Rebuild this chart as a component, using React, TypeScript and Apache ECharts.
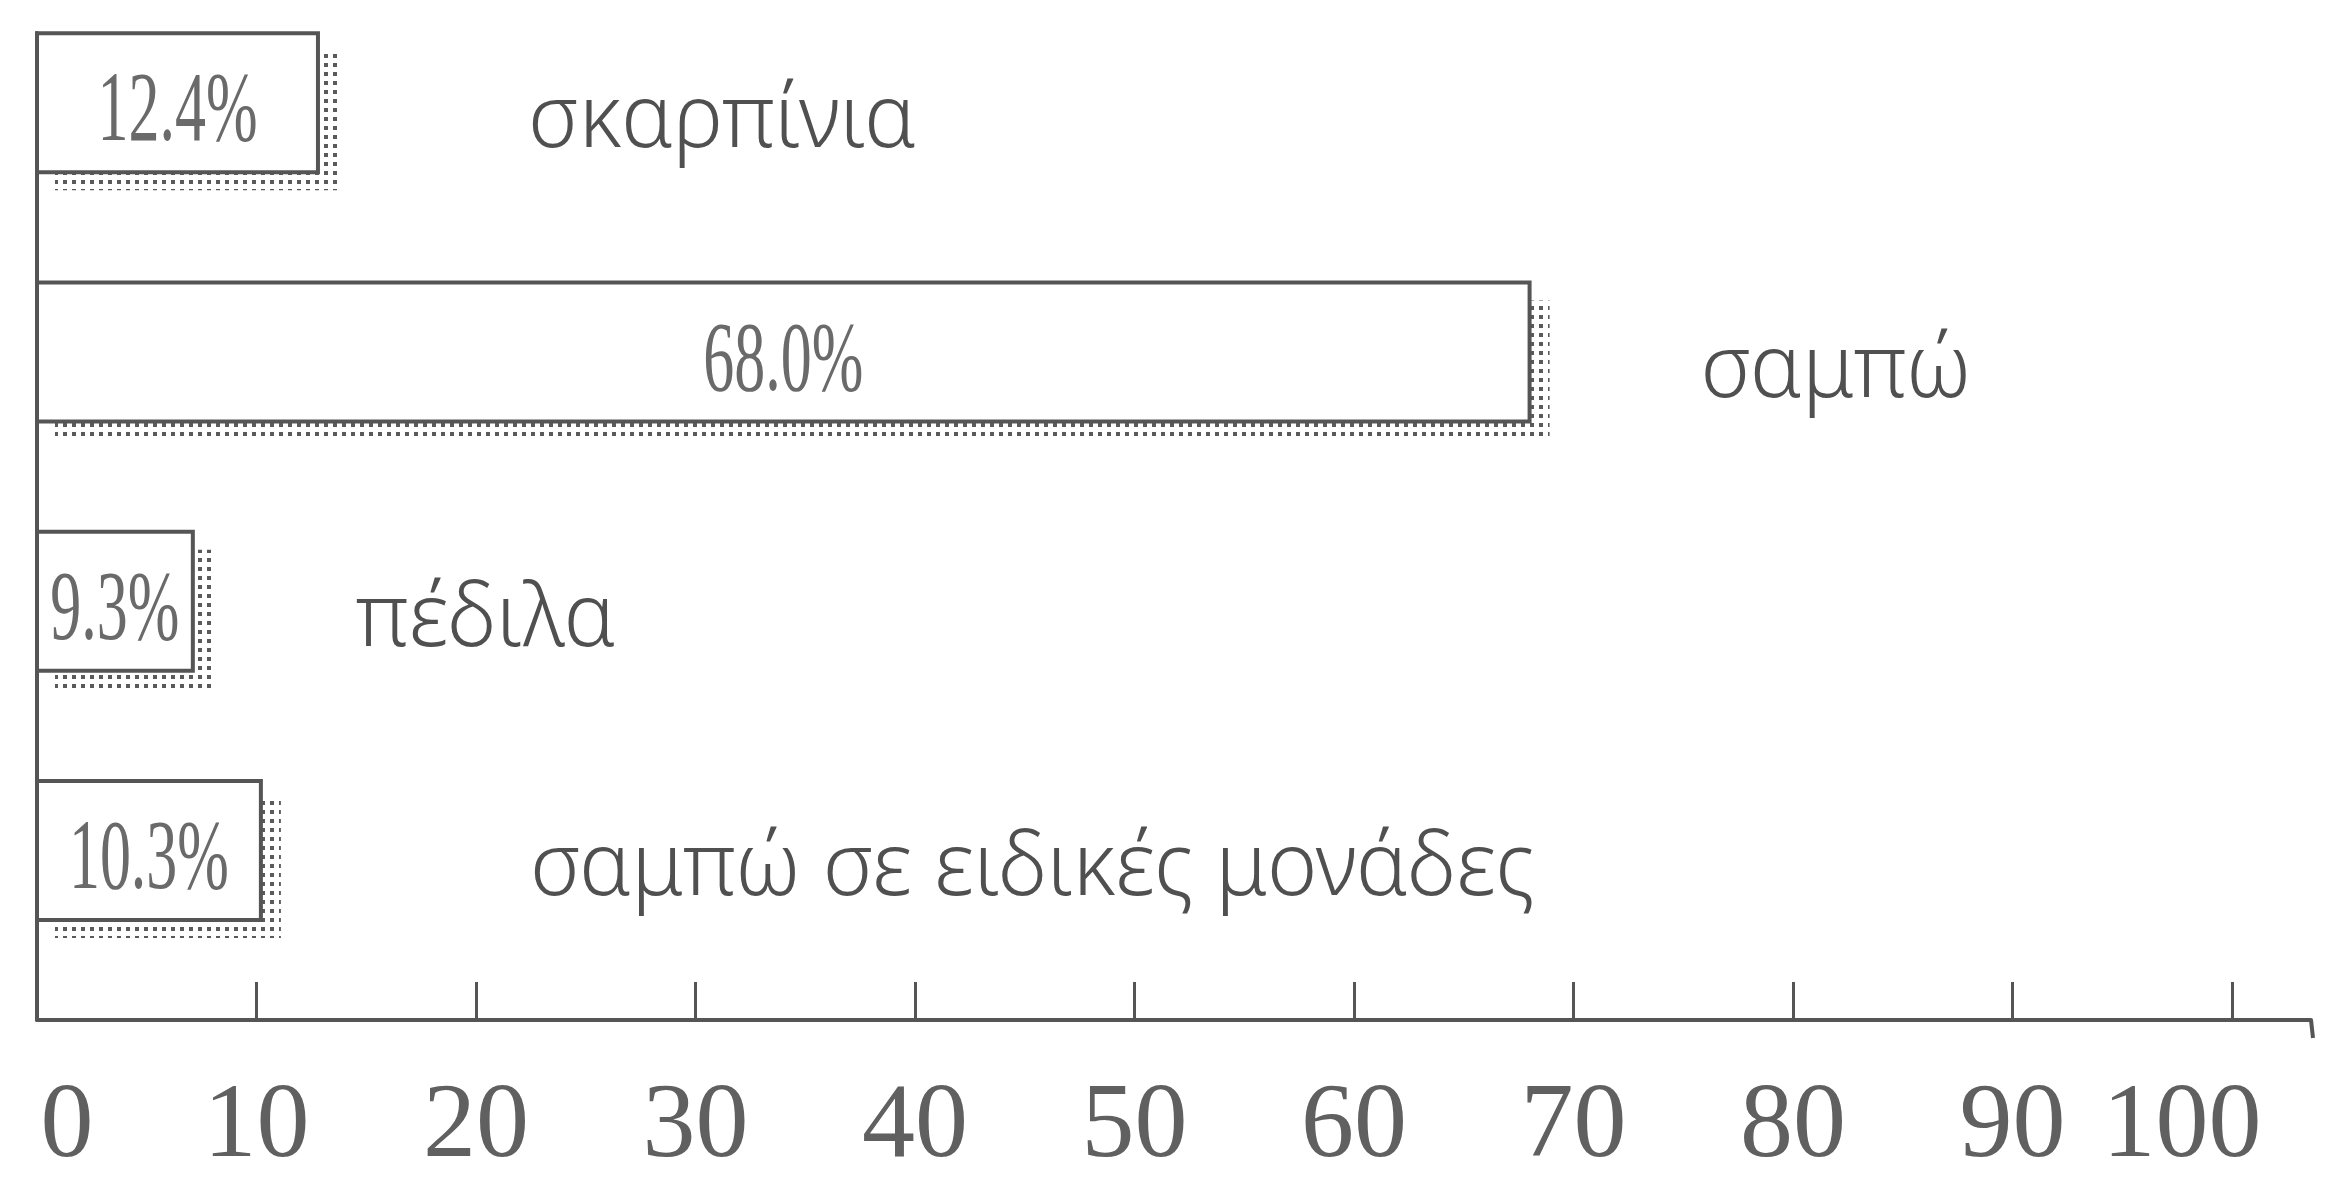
import React, { useEffect, useRef } from 'react';
import * as echarts from 'echarts';

// ---- data ----
const CATEGORIES = ['σκαρπίνια', 'σαμπώ', 'πέδιλα', 'σαμπώ σε ειδικές μονάδες'];
const PERCENT_LABELS = [12.4, 68.0, 9.3, 10.3]; // printed in the bars
const BAR_LENGTHS = [12.8, 68.0, 7.1, 10.2]; // drawn length of each bar (axis units)
const X_TICKS = [0, 10, 20, 30, 40, 50, 60, 70, 80, 90, 100];

// ---- layout / style constants ----
const X_MAX = 103.6;
const Y_MIN = -0.28;
const Y_MAX = 3.68;
const BAR_THICKNESS = 0.557;
const NAME_GAPS = [210, 171, 163, 269];
const INK = '#555555';

const DOTS =
  'data:image/svg+xml;utf8,' +
  encodeURIComponent(
    '<svg xmlns="http://www.w3.org/2000/svg" width="9" height="9"><rect width="9" height="9" fill="#ffffff"/><rect width="4" height="4" fill="#5a5a5a"/></svg>'
  );

export default function App() {
  const ref = useRef<HTMLDivElement>(null);

  useEffect(() => {
    document.body.style.margin = '0';
    document.body.style.overflow = 'hidden';
    const chart = echarts.init(ref.current!, undefined, { renderer: 'svg' });

    const serifLabel = (pad: number[]) => ({
      fontFamily: '"Liberation Serif", serif',
      fontSize: 106,
      lineHeight: 106,
      color: '#606060',
      padding: pad,
    });

    chart.setOption({
      animation: false,
      backgroundColor: '#ffffff',
      grid: {
        left: 37,
        right: 14,
        top: 33,
        bottom: 161,
        containLabel: false,
        outerBoundsMode: 'none',
      },
      xAxis: {
        type: 'value',
        min: 0,
        max: X_MAX,
        position: 'bottom',
        axisLine: { show: true, onZero: false, lineStyle: { color: INK, width: 4 } },
        axisTick: {
          show: true,
          inside: true,
          length: 38,
          customValues: X_TICKS,
          lineStyle: { color: INK, width: 3 },
        },
        axisLabel: {
          customValues: X_TICKS,
          margin: 47,
          formatter: (v: number) =>
            v === 0 ? '{l|0}' : v === 100 ? '{r|100}' : '{n|' + v + '}',
          rich: {
            l: serifLabel([0, 0, 0, 60]),
            r: serifLabel([0, 100, 0, 0]),
            n: serifLabel([0, 0, 0, 0]),
          },
        },
        splitLine: { show: false },
      },
      yAxis: {
        type: 'value',
        inverse: true,
        min: Y_MIN,
        max: Y_MAX,
        axisLine: { show: true, onZero: false, lineStyle: { color: INK, width: 4 } },
        axisTick: { show: false },
        axisLabel: { show: false },
        splitLine: { show: false },
      },
      series: [
        {
          type: 'custom',
          clip: false,
          encode: { x: 0, y: 1 },
          data: BAR_LENGTHS.map((v, i) => [v, i]),
          renderItem: (params: any, api: any) => {
            const i = params.dataIndex;
            const idx = api.value(1);
            const len = api.value(0);
            const start = api.coord([0, idx]);
            const end = api.coord([len, idx]);
            const h = Math.abs(api.size([0, BAR_THICKNESS])[1]);
            const x = start[0];
            const y = start[1] - h / 2;
            const w = end[0] - start[0];
            return {
              type: 'group',
              children: [
                {
                  type: 'rect',
                  shape: { x: x + 18, y: y + 18, width: w + 2, height: h },
                  style: {
                    fill: { image: DOTS, repeat: 'repeat', imageWidth: 9, imageHeight: 9 },
                  },
                },
                {
                  type: 'rect',
                  shape: { x, y, width: w, height: h },
                  style: { fill: '#ffffff', stroke: INK, lineWidth: 4 },
                },
                {
                  type: 'text',
                  x: x + w / 2,
                  y: start[1] + 4,
                  scaleX: 0.62,
                  style: {
                    text: PERCENT_LABELS[i].toFixed(1) + '%',
                    fill: '#6a6a6a',
                    fontSize: 100,
                    fontFamily: '"Liberation Serif", serif',
                    align: 'center',
                    verticalAlign: 'middle',
                  },
                },
                {
                  type: 'text',
                  x: end[0] + NAME_GAPS[i],
                  y: start[1] + 10,
                  scaleX: 0.97,
                  style: {
                    text: CATEGORIES[i],
                    fill: '#505050',
                    fontSize: 88,
                    fontWeight: 300,
                    fontFamily: '"Noto Sans", "DejaVu Sans", sans-serif',
                    align: 'left',
                    verticalAlign: 'middle',
                  },
                },
              ],
            };
          },
        },
      ],
    });

    const p = chart.convertToPixel({ gridIndex: 0 }, [X_MAX, Y_MAX]) as number[];
    chart.setOption({
      graphic: [
        {
          type: 'line',
          shape: { x1: p[0], y1: p[1], x2: p[0] + 2, y2: p[1] + 18 },
          style: { stroke: INK, lineWidth: 4 },
        },
      ],
    });

    return () => chart.dispose();
  }, []);

  return <div ref={ref} style={{ width: 2325, height: 1181 }} />;
}
